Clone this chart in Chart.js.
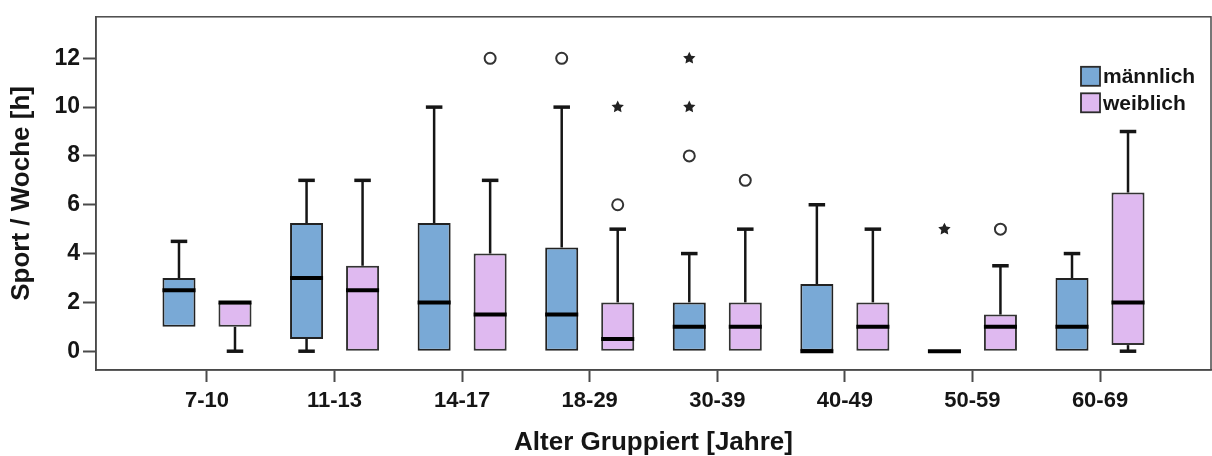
<!DOCTYPE html>
<html>
<head>
<meta charset="utf-8">
<script src="https://cdn.jsdelivr.net/npm/chart.js"></script>
<style>
  body { margin: 0; background: #fff; }
  #chart { display: block; }
</style>
</head>
<body>
<canvas id="chart" width="1212" height="456"></canvas>
<script>
// Alter-Gruppen und Boxplot-Kennwerte (Stunden Sport pro Woche)
const categories = ['7-10', '11-13', '14-17', '18-29', '30-39', '40-49', '50-59', '60-69'];
const yTicks = [0, 2, 4, 6, 8, 10, 12];

const maleQ1 = [1, 0.5, 0, 0, 0, 0, 0, 0];
const maleQ3 = [3, 5.25, 5.25, 4.25, 2, 2.75, 0, 3];
const maleMedian = [2.5, 3, 2, 1.5, 1, 0, 0, 1];
const maleLow = [1, 0, 0, 0, 0, 0, 0, 0];
const maleHigh = [4.5, 7, 10, 10, 4, 6, 0, 4];
const maleOutliers = [[], [], [], [12], [8], [], [], []];
const maleExtremes = [[], [], [], [], [10, 12], [], [5], []];

const femaleQ1 = [1, 0, 0, 0, 0, 0, 0, 0.25];
const femaleQ3 = [2, 3.5, 4, 2, 2, 2, 1.5, 6.5];
const femaleMedian = [2, 2.5, 1.5, 0.5, 1, 1, 1, 2];
const femaleLow = [0, 0, 0, 0, 0, 0, 0, 0];
const femaleHigh = [2, 7, 7, 5, 5, 5, 3.5, 9];
const femaleOutliers = [[], [], [12], [6], [7], [], [5], []];
const femaleExtremes = [[], [], [], [10], [], [], [], []];

const FONT = "'Liberation Sans', Arial, sans-serif";
const INK = '#151515';
const FRAME = '#4a4a4a';

const extras = [
	{ median: maleMedian, low: maleLow, high: maleHigh, q1: maleQ1, q3: maleQ3, outliers: maleOutliers, extremes: maleExtremes },
	{ median: femaleMedian, low: femaleLow, high: femaleHigh, q1: femaleQ1, q3: femaleQ3, outliers: femaleOutliers, extremes: femaleExtremes }
];

function boxData(q1, q3) {
	return categories.map((c, i) => ({ x: i, y: [q1[i], q3[i]] }));
}

function drawStar(ctx, x, y, r) {
	ctx.beginPath();
	for (let k = 0; k < 10; k++) {
		const rad = k % 2 === 0 ? r : r * 0.5;
		const a = -Math.PI / 2 + k * Math.PI / 5;
		const px = x + rad * Math.cos(a), py = y + rad * Math.sin(a);
		if (k === 0) ctx.moveTo(px, py); else ctx.lineTo(px, py);
	}
	ctx.closePath();
	ctx.fill();
}

// whiskers, medians, outliers, legend and frame
const boxplotPlugin = {
	id: 'boxplot',
	afterDatasetsDraw(chart) {
		const ctx = chart.ctx;
		const yScale = chart.scales.y;
		ctx.save();
		extras.forEach((ex, d) => {
			const meta = chart.getDatasetMeta(d);
			meta.data.forEach((el, i) => {
				const { x, width } = el.getProps(['x', 'width'], true);
				const cap = width / 2;
				ctx.strokeStyle = INK;
				ctx.lineCap = 'butt';
				// upper whisker
				if (ex.high[i] > ex.q3[i]) {
					const yTop = yScale.getPixelForValue(ex.high[i]);
					const yBox = yScale.getPixelForValue(ex.q3[i]);
					ctx.lineWidth = 2.5;
					ctx.beginPath(); ctx.moveTo(x, yBox); ctx.lineTo(x, yTop); ctx.stroke();
					ctx.lineWidth = 3.5;
					ctx.beginPath(); ctx.moveTo(x - cap / 2, yTop); ctx.lineTo(x + cap / 2, yTop); ctx.stroke();
				}
				// lower whisker
				if (ex.low[i] < ex.q1[i]) {
					const yBot = yScale.getPixelForValue(ex.low[i]);
					const yBox = yScale.getPixelForValue(ex.q1[i]);
					ctx.lineWidth = 2.5;
					ctx.beginPath(); ctx.moveTo(x, yBox); ctx.lineTo(x, yBot); ctx.stroke();
					ctx.lineWidth = 3.5;
					ctx.beginPath(); ctx.moveTo(x - cap / 2, yBot); ctx.lineTo(x + cap / 2, yBot); ctx.stroke();
				}
				// median
				const ym = yScale.getPixelForValue(ex.median[i]);
				ctx.lineWidth = 4;
				ctx.strokeStyle = '#000';
				ctx.beginPath(); ctx.moveTo(x - width / 2, ym); ctx.lineTo(x + width / 2, ym); ctx.stroke();
				// outliers (circles)
				ex.outliers[i].forEach(v => {
					const yo = yScale.getPixelForValue(v);
					ctx.lineWidth = 2;
					ctx.strokeStyle = '#333';
					ctx.fillStyle = '#fff';
					ctx.beginPath(); ctx.arc(x, yo, 5.5, 0, Math.PI * 2); ctx.fill(); ctx.stroke();
				});
				// extremes (stars)
				ex.extremes[i].forEach(v => {
					ctx.fillStyle = '#222';
					drawStar(ctx, x, yScale.getPixelForValue(v), 6.5);
				});
			});
		});
		ctx.restore();
	},
	afterDraw(chart) {
		const ctx = chart.ctx;
		const a = chart.chartArea;
		ctx.save();
		ctx.strokeStyle = FRAME;
		ctx.lineWidth = 1.5;
		ctx.strokeRect(a.left, a.top, a.right - a.left, a.bottom - a.top);

		// legend
		const lx = a.right - 130, ly = a.top + 50, sz = 19, gap = 26.5;
		chart.data.datasets.forEach((ds, d) => {
			const top = ly + d * gap;
			ctx.fillStyle = ds.backgroundColor;
			ctx.fillRect(lx, top, sz, sz);
			ctx.lineWidth = 1.8;
			ctx.strokeStyle = '#2b2b2b';
			ctx.strokeRect(lx, top, sz, sz);
			ctx.fillStyle = INK;
			ctx.font = 'bold 21px ' + FONT;
			ctx.textBaseline = 'middle';
			ctx.textAlign = 'left';
			ctx.fillText(ds.label, lx + sz + 3, top + sz / 2 + 1);
		});
		ctx.restore();
	}
};

new Chart(document.getElementById('chart'), {
	type: 'bar',
	data: {
		datasets: [
			{
				label: 'männlich',
				data: boxData(maleQ1, maleQ3),
				backgroundColor: '#79a9d6',
				borderColor: '#222',
				borderWidth: 2,
				borderSkipped: false
			},
			{
				label: 'weiblich',
				data: boxData(femaleQ1, femaleQ3),
				backgroundColor: '#dfb9f0',
				borderColor: '#333',
				borderWidth: 2,
				borderSkipped: false
			}
		]
	},
	options: {
		responsive: false,
		animation: false,
		categoryPercentage: 0.878,
		barPercentage: 0.59,
		layout: { padding: { top: 12, right: 1, left: 0, bottom: 0 } },
		plugins: {
			legend: { display: false },
			tooltip: { enabled: false }
		},
		scales: {
			x: {
				type: 'linear',
				offset: false,
				min: -0.87,
				max: 7.87,
				afterBuildTicks: (s) => { s.ticks = categories.map((c, i) => ({ value: i })); },
				afterFit: (s) => { s.height = 86; },
				ticks: {
					callback: (v) => categories[v],
					color: INK,
					font: { family: FONT, size: 22, weight: 'bold' },
					padding: 6,
					maxRotation: 0,
					autoSkip: false
				},
				grid: { display: true, drawOnChartArea: false, drawTicks: true, tickLength: 12, tickWidth: 2, color: FRAME, offset: false },
				border: { display: true, color: FRAME, width: 1.5 },
				title: {
					display: true,
					text: 'Alter Gruppiert [Jahre]',
					color: INK,
					font: { family: FONT, size: 26, weight: 'bold', lineHeight: 1 },
					padding: { top: 0, bottom: 0 }
				}
			},
			y: {
				min: -0.77,
				max: 13.7,
				afterBuildTicks: (s) => { s.ticks = yTicks.map(v => ({ value: v })); },
				afterFit: (s) => { s.width = 96; },
				ticks: {
					color: INK,
					font: { family: FONT, size: 23, weight: 'bold' },
					padding: 3
				},
				grid: { display: true, drawOnChartArea: false, drawTicks: true, tickLength: 13, tickWidth: 2, color: FRAME },
				border: { display: true, color: FRAME, width: 1.5 },
				title: {
					display: true,
					text: 'Sport / Woche [h]',
					color: INK,
					font: { family: FONT, size: 26, weight: 'bold', lineHeight: 1 },
					padding: { top: 9, bottom: 0 }
				}
			}
		}
	},
	plugins: [boxplotPlugin]
});
</script>
</body>
</html>
